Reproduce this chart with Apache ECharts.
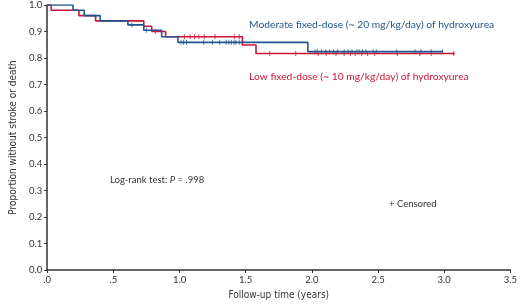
<!DOCTYPE html>
<html>
<head>
<meta charset="utf-8">
<script src="https://cdn.jsdelivr.net/npm/echarts@6/dist/echarts.min.js"></script>
<style>
  html, body { margin: 0; padding: 0; background: #fff; }
  #chart { width: 520px; height: 305px; }
</style>
</head>
<body>
<div id="chart"></div>
<script>
// Kaplan-Meier curves: [time (years), proportion after the step]
var lowDose = [[0, 1], [0.03, 0.98], [0.24, 0.96], [0.366, 0.94], [0.73, 0.92], [0.79, 0.90],
  [0.895, 0.88], [1.475, 0.849], [1.578, 0.817], [3.08, 0.817]];
var modDose = [[0, 1], [0.195, 0.98], [0.28, 0.96], [0.40, 0.94], [0.61, 0.925], [0.73, 0.905],
  [0.865, 0.88], [0.988, 0.859], [1.97, 0.824], [2.99, 0.824]];

// censored times (years)
var lowCensor = [0.817, 1.037, 1.08, 1.114, 1.146, 1.187, 1.268, 1.414, 1.451, 1.682, 1.878, 2.048,
  2.109, 2.182, 2.244, 2.292, 2.328, 2.377, 2.421, 2.475, 2.646, 2.816, 2.902, 3.072];
var modCensor = [0.64, 0.75, 1.012, 1.031, 1.053, 1.183, 1.249, 1.304, 1.353, 1.373, 1.392, 1.412,
  1.426, 1.451, 2.024, 2.041, 2.072, 2.105, 2.134, 2.163, 2.195, 2.244, 2.275, 2.304, 2.341,
  2.358, 2.383, 2.407, 2.463, 2.487, 2.641, 2.78, 2.824, 2.902, 2.987];

var xTicks = ['.0', '.5', '1.0', '1.5', '2.0', '2.5', '3.0', '3.5'];

var blue = '#215790';
var red = '#cc1639';
var font = 'Lato, "Noto Sans", sans-serif';
var narrow = '"Liberation Sans Narrow", "DejaVu Sans Condensed", Lato, sans-serif';

// value of a step curve at time t
function survAt(curve, t) {
  var v = curve[0][1];
  for (var i = 0; i < curve.length; i++) {
    if (curve[i][0] <= t) v = curve[i][1];
  }
  return v;
}

function censorPoints(curve, times) {
  return times.map(function (t) { return [t, survAt(curve, t)]; });
}

var chart = echarts.init(document.getElementById('chart'));

var option = {
  animation: false,
  grid: { left: 35, right: 6, top: 5, bottom: 32 },
  xAxis: {
    type: 'value',
    min: 0,
    max: 3.5,
    interval: 0.5,
    name: 'Follow-up time (years)',
    nameLocation: 'middle',
    nameGap: 20,
    nameTextStyle: { fontFamily: narrow, fontSize: 10, color: '#333' },
    axisLine: { lineStyle: { color: '#333', width: 1.5 } },
    axisTick: { length: 3, lineStyle: { color: '#333' } },
    axisLabel: {
      fontFamily: font, fontSize: 9.5, color: '#333', margin: 5,
      formatter: function (v) { return xTicks[Math.round(v / 0.5)]; }
    },
    splitLine: { show: false }
  },
  yAxis: {
    type: 'value',
    min: 0,
    max: 1,
    interval: 0.1,
    name: 'Proportion without stroke or death',
    nameLocation: 'middle',
    nameGap: 27,
    nameTextStyle: { fontFamily: narrow, fontSize: 10, color: '#333' },
    axisLine: { show: true, lineStyle: { color: '#333', width: 1.5 } },
    axisTick: { show: true, length: 3, lineStyle: { color: '#333' } },
    axisLabel: {
      fontFamily: font, fontSize: 9.5, color: '#333', margin: 5,
      formatter: function (v) { return v.toFixed(1); }
    },
    splitLine: { show: false }
  },
  series: [
    {
      name: 'Low',
      type: 'line',
      step: 'end',
      data: lowDose,
      symbol: 'none',
      lineStyle: { color: red, width: 1.6 }
    },
    {
      name: 'Low censored',
      type: 'scatter',
      data: censorPoints(lowDose, lowCensor),
      symbol: 'rect',
      symbolSize: [1, 5],
      itemStyle: { color: red }
    },
    {
      name: 'Moderate',
      type: 'line',
      step: 'end',
      data: modDose,
      symbol: 'none',
      lineStyle: { color: blue, width: 1.6 }
    },
    {
      name: 'Moderate censored',
      type: 'scatter',
      data: censorPoints(modDose, modCensor),
      symbol: 'rect',
      symbolSize: [1, 5],
      itemStyle: { color: blue }
    }
  ],
  graphic: [
    {
      type: 'text', left: 249, top: 20,
      style: { text: 'Moderate fixed-dose (~ 20 mg/kg/day) of hydroxyurea', fill: blue, font: '10.3px ' + font }
    },
    {
      type: 'text', left: 249, top: 72,
      style: { text: 'Low fixed-dose (~ 10 mg/kg/day) of hydroxyurea', fill: red, font: '10.3px ' + font }
    },
    {
      type: 'text', left: 110, top: 175,
      style: {
        text: 'Log-rank test: {i|P} = .998', fill: '#333', font: '9.5px ' + font,
        rich: { i: { fontStyle: 'italic', fontFamily: font, fontSize: 9.5, fill: '#333' } }
      }
    },
    {
      type: 'text', left: 389, top: 199,
      style: { text: '+ Censored', fill: '#333', font: '9.5px ' + font }
    }
  ]
};

chart.setOption(option);
</script>
</body>
</html>
